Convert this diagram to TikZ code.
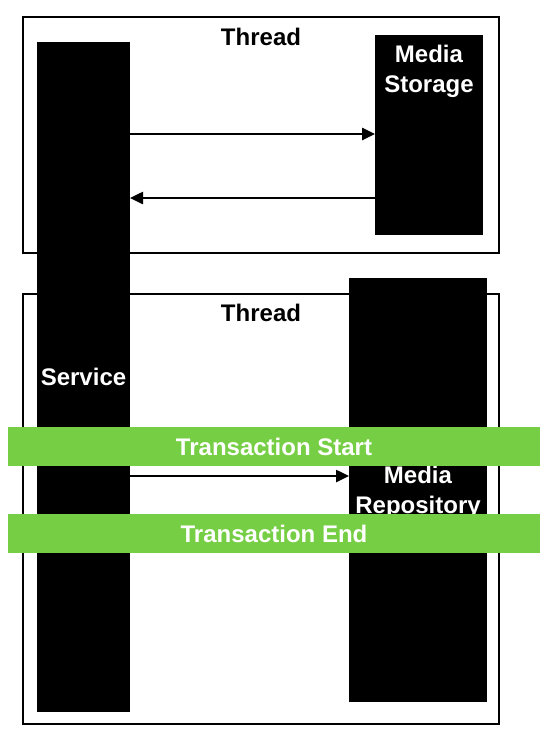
\documentclass[tikz,border=0pt]{standalone}
\usepackage{fontspec}
\setmainfont{Liberation Sans}
\usetikzlibrary{arrows.meta}
\definecolor{txgreen}{RGB}{118,206,68}
\newcommand{\bigbold}{\fontsize{24bp}{30bp}\selectfont\bfseries}
\tikzset{
  thread/.style = {draw, line width=2bp, inner sep=0pt, outer sep=0pt, anchor=north west},
  lifeline/.style = {fill=black, inner sep=0pt, outer sep=0pt, anchor=north west},
  txbar/.style = {fill=txgreen, inner sep=0pt, outer sep=0pt, anchor=north west,
    minimum width=532bp, minimum height=39bp, text=white, font=\bigbold},
  msg/.style = {line width=2.5bp, -{Triangle[length=13bp, width=12bp]}}
}

\begin{document}
\begin{tikzpicture}[x=1bp, y=-1bp]
\useasboundingbox (0,0) rectangle (549,740);
% threads
\node[thread, minimum width=476bp, minimum height=236bp] (thread1) at (23,17) {};
\node[thread, minimum width=476bp, minimum height=430bp] (thread2) at (23,294) {};
\node[font=\bigbold] at ([yshift=-20bp]thread1.north) {Thread};
\node[font=\bigbold] at ([yshift=-19bp]thread2.north) {Thread};
% participants
\node[lifeline, minimum width=93bp, minimum height=670bp, text=white, font=\bigbold] (service) at (37,42) {Service};
\node[lifeline, minimum width=108bp, minimum height=200bp] (storage) at (375,35) {};
\node[text=white, font=\bigbold, align=center, anchor=north, inner sep=0pt] (storagetext) at ([yshift=-10bp]storage.north) {Media\\Storage};
\node[lifeline, minimum width=138bp, minimum height=424bp] (repo) at (349,278) {};
\node[text=white, font=\bigbold, align=center, inner sep=0pt] (repotext) at ([yshift=-2bp]repo.center) {Media\\Repository};
% messages
\coordinate (m1) at (0,134);
\coordinate (m2) at (0,198);
\coordinate (m3) at (0,476);
\draw[msg] (m1 -| service.east) -- (m1 -| storage.west);
\draw[msg] (m2 -| storage.west) -- (m2 -| service.east);
\draw[msg] (m3 -| service.east) -- (m3 -| repo.west);
% transaction
\node[txbar] (txstart) at (8,427) {Transaction Start};
\node[txbar] (txend) at (8,514) {Transaction End};
\end{tikzpicture}
\end{document}
